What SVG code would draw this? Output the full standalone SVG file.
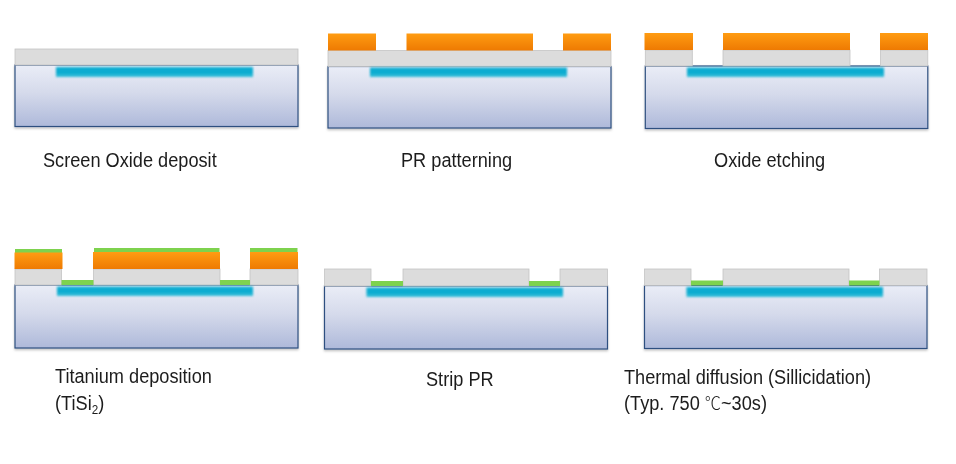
<svg xmlns="http://www.w3.org/2000/svg" width="956" height="464" viewBox="0 0 956 464">
<style>
.sub{fill:url(#gs);stroke:#2f5080;stroke-width:1.2;filter:url(#sh)}
.ox{fill:#dcdcdc;stroke:#c4c4c4;stroke-width:.8}
.pr{fill:url(#gp)}
.ti{fill:#7ed24e}
.bl{fill:url(#gb);filter:url(#bb)}
text{font-family:"Liberation Sans",Arial,"Noto Sans CJK SC",sans-serif;font-size:20.2px;fill:#1c1c1c;filter:url(#tb)}
.cjk{font-family:"Noto Sans CJK SC","Liberation Sans",sans-serif;font-weight:300;font-size:18px}
</style>
<defs>
<linearGradient id="gs" x1="0" y1="0" x2="0" y2="1"><stop offset="0" stop-color="#eaedf7"/><stop offset=".45" stop-color="#d5daeb"/><stop offset="1" stop-color="#aeb9da"/></linearGradient>
<linearGradient id="gp" x1="0" y1="0" x2="0" y2="1"><stop offset="0" stop-color="#ff9c12"/><stop offset="1" stop-color="#ee7a02"/></linearGradient>
<linearGradient id="gb" x1="0" y1="0" x2="0" y2="1"><stop offset="0" stop-color="#10b0d4"/><stop offset=".5" stop-color="#04aacf"/><stop offset="1" stop-color="#3cc0da"/></linearGradient>
<filter id="bb" x="-5%" y="-40%" width="110%" height="180%"><feGaussianBlur stdDeviation=".8"/></filter>
<filter id="tb" x="-2%" y="-10%" width="104%" height="120%"><feGaussianBlur stdDeviation=".3"/></filter>
<filter id="sh" x="-3%" y="-5%" width="106%" height="115%"><feDropShadow dx="0" dy="1.5" stdDeviation="1.2" flood-color="#000" flood-opacity=".25"/></filter>
</defs>
<g id="panel-screen-oxide">
<rect class="sub" x="15" y="65" width="283" height="61.500"/>
<rect class="ox" x="15" y="49" width="283" height="16"/>
<rect class="bl" x="56" y="67" width="197" height="10"/>
<text transform="translate(43 167) scale(.9 1)">Screen Oxide deposit</text>
</g>
<g id="panel-pr-patterning">
<rect class="sub" x="328" y="66.500" width="283" height="61.500"/>
<rect class="ox" x="328" y="50.500" width="283" height="16"/>
<rect class="pr" x="328" y="33.500" width="48" height="17"/>
<rect class="pr" x="406.500" y="33.500" width="126.500" height="17"/>
<rect class="pr" x="563" y="33.500" width="48" height="17"/>
<rect class="bl" x="370" y="67.500" width="197" height="9.500"/>
<text transform="translate(401 167) scale(.9 1)">PR patterning</text>
</g>
<g id="panel-oxide-etching">
<rect class="sub" x="645.300" y="66" width="282.500" height="62.500"/>
<rect class="ox" x="645.300" y="50" width="47" height="16"/>
<rect class="ox" x="723" y="50" width="127" height="16"/>
<rect class="ox" x="880.500" y="50" width="47.300" height="16"/>
<rect class="pr" x="644.500" y="33" width="48.500" height="17"/>
<rect class="pr" x="723" y="33" width="127" height="17"/>
<rect class="pr" x="880" y="33" width="48" height="17"/>
<rect class="bl" x="687" y="67.500" width="197" height="9.500"/>
<text transform="translate(714 167) scale(.9 1)">Oxide etching</text>
</g>
<g id="panel-titanium">
<rect class="sub" x="15" y="285" width="283" height="63"/>
<rect class="ox" x="15" y="269" width="46.500" height="16"/>
<rect class="ox" x="93.500" y="269" width="126.500" height="16"/>
<rect class="ox" x="250" y="269" width="48" height="16"/>
<rect class="ti" x="15" y="249" width="47" height="4"/>
<rect class="ti" x="94" y="248" width="125.500" height="4"/>
<rect class="ti" x="250" y="248" width="47.500" height="4"/>
<rect class="pr" x="14.500" y="252.500" width="48" height="16.500"/>
<rect class="pr" x="93" y="252" width="127" height="17"/>
<rect class="pr" x="250" y="252" width="48" height="17"/>
<rect class="ti" x="61.500" y="280" width="32" height="5"/>
<rect class="ti" x="220" y="280" width="30" height="5"/>
<rect class="bl" x="57" y="286.500" width="196" height="9.500"/>
<text transform="translate(55 382.500) scale(.9 1)">Titanium deposition</text>
<text transform="translate(55 410) scale(.9 1)">(TiSi<tspan font-size="13px" dy="4">2</tspan><tspan dy="-4">)</tspan></text>
</g>
<g id="panel-strip-pr">
<rect class="sub" x="324.500" y="286" width="283" height="63"/>
<rect class="ox" x="324.500" y="269" width="46.500" height="17"/>
<rect class="ox" x="403" y="269" width="126" height="17"/>
<rect class="ox" x="560" y="269" width="47.500" height="17"/>
<rect class="ti" x="371" y="281" width="32" height="5"/>
<rect class="ti" x="529" y="281" width="31" height="5"/>
<rect class="bl" x="366.500" y="287.500" width="196.500" height="9.500"/>
<text transform="translate(426 386) scale(.9 1)">Strip PR</text>
</g>
<g id="panel-thermal">
<rect class="sub" x="644.500" y="285.500" width="282.500" height="63"/>
<rect class="ox" x="644.500" y="269" width="46.500" height="16.500"/>
<rect class="ox" x="723" y="269" width="126" height="16.500"/>
<rect class="ox" x="879.500" y="269" width="47.500" height="16.500"/>
<rect class="ti" x="691" y="280.500" width="32" height="5"/>
<rect class="ti" x="849" y="280.500" width="30.500" height="5"/>
<rect class="bl" x="686.500" y="287" width="196.500" height="10"/>
<text transform="translate(624 384) scale(.9 1)">Thermal diffusion (Sillicidation)</text>
<text transform="translate(624 410) scale(.9 1)">(Typ. 750 <tspan class="cjk">℃</tspan>~30s)</text>
</g>
</svg>
